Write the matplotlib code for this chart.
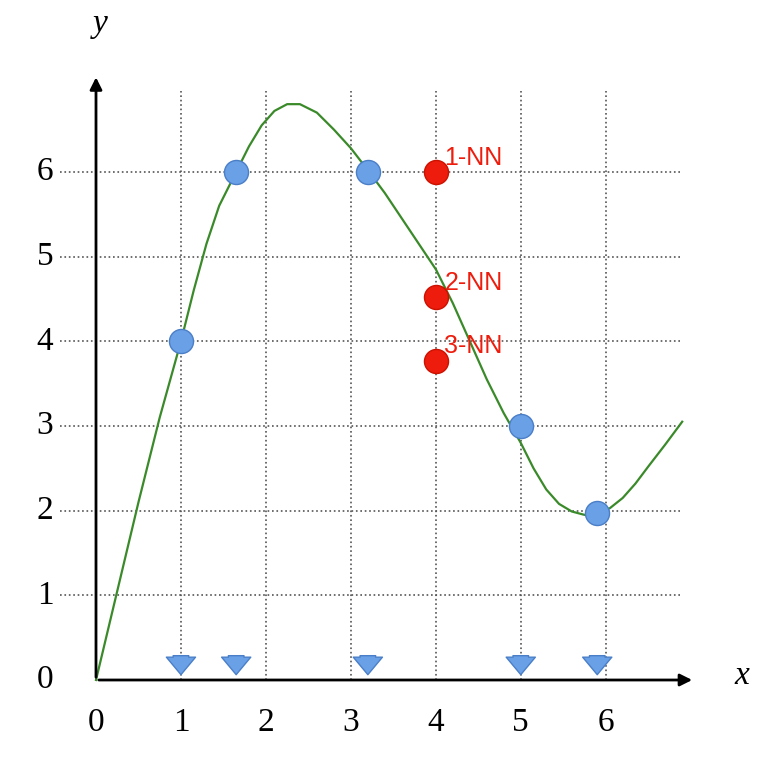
import matplotlib.pyplot as plt
import numpy as np

# curve
curve_x = [0, 0.25, 0.5, 0.75, 1, 1.15, 1.3, 1.45, 1.65, 1.8, 1.95, 2.1, 2.25, 2.4, 2.6, 2.8, 3.0, 3.2,
           3.4, 3.6, 3.8, 4.0, 4.2, 4.4, 4.6, 4.8, 5.0, 5.15, 5.3, 5.45, 5.6, 5.75, 5.9, 6.05, 6.2,
           6.35, 6.5, 6.7, 6.9]
curve_y = [0, 1.05, 2.1, 3.1, 4, 4.6, 5.15, 5.6, 6, 6.3, 6.55, 6.72, 6.8, 6.8, 6.7, 6.5, 6.28, 6.02,
           5.75, 5.45, 5.15, 4.85, 4.45, 4.0, 3.55, 3.15, 2.8, 2.5, 2.25, 2.08, 1.99, 1.95, 1.96, 2.03, 2.15,
           2.32, 2.52, 2.78, 3.05]
blue_x = [1, 1.65, 3.2, 5, 5.9]
blue_y = [4, 6, 6, 3, 1.97]
red_x = [4, 4, 4]
red_y = [6, 4.52, 3.77]
red_labels = ['1-NN', '2-NN', '3-NN']
ticks = [0, 1, 2, 3, 4, 5, 6]

fig = plt.figure(figsize=(7.68, 7.74), dpi=100)
ax = fig.add_axes([0, 0, 1, 1])
ax.set_xlim(-1.13, 7.91)
ax.set_ylim(-1.11, 8.03)
ax.axis('off')

# grid
for t in ticks[1:]:
    ax.plot([t, t], [0, 6.95], ls=':', color='#555555', lw=1.2)
    ax.plot([-0.42, 6.9], [t, t], ls=':', color='#555555', lw=1.2)

# axes with arrows
ax.annotate('', xy=(7.05, 0), xytext=(0, 0),
            arrowprops=dict(arrowstyle='-|>', color='black', lw=2, mutation_scale=18))
ax.annotate('', xy=(0, 7.15), xytext=(0, 0),
            arrowprops=dict(arrowstyle='-|>', color='black', lw=2, mutation_scale=18))

font = dict(family='Liberation Serif', fontsize=24)
for t in ticks:
    ax.text(t, -0.32, str(t), ha='center', va='top', **font)
for t in ticks:
    ax.text(-0.6, t, str(t), ha='center', va='center', **font)
ax.text(7.6, 0.05, 'x', ha='center', va='center', style='italic', **font)
ax.text(0.05, 7.75, 'y', ha='center', va='center', style='italic', **font)

ax.plot(curve_x, curve_y, color='#3a8a2a', lw=1.6)

ax.scatter(blue_x, blue_y, s=300, color='#6aa0e6', edgecolor='#4a7fc8', zorder=5)
ax.scatter(red_x, red_y, s=300, color='#ee1c0c', edgecolor='#cc1100', zorder=5)
for x, y, lab in zip(red_x, red_y, red_labels):
    ax.text(x + 0.1, y + 0.17, lab, color='#ee1c0c', fontsize=18,
            family='Liberation Sans', ha='left', va='center')

# arrows pointing down
for x in blue_x:
    ax.annotate('', xy=(x, 0.03), xytext=(x, 0.32),
                arrowprops=dict(arrowstyle='simple,head_width=1.5,head_length=0.9,tail_width=0.8',
                                color='#6aa0e6', ec='#4a7fc8', mutation_scale=14))

fig.savefig('out.png', dpi=100)
